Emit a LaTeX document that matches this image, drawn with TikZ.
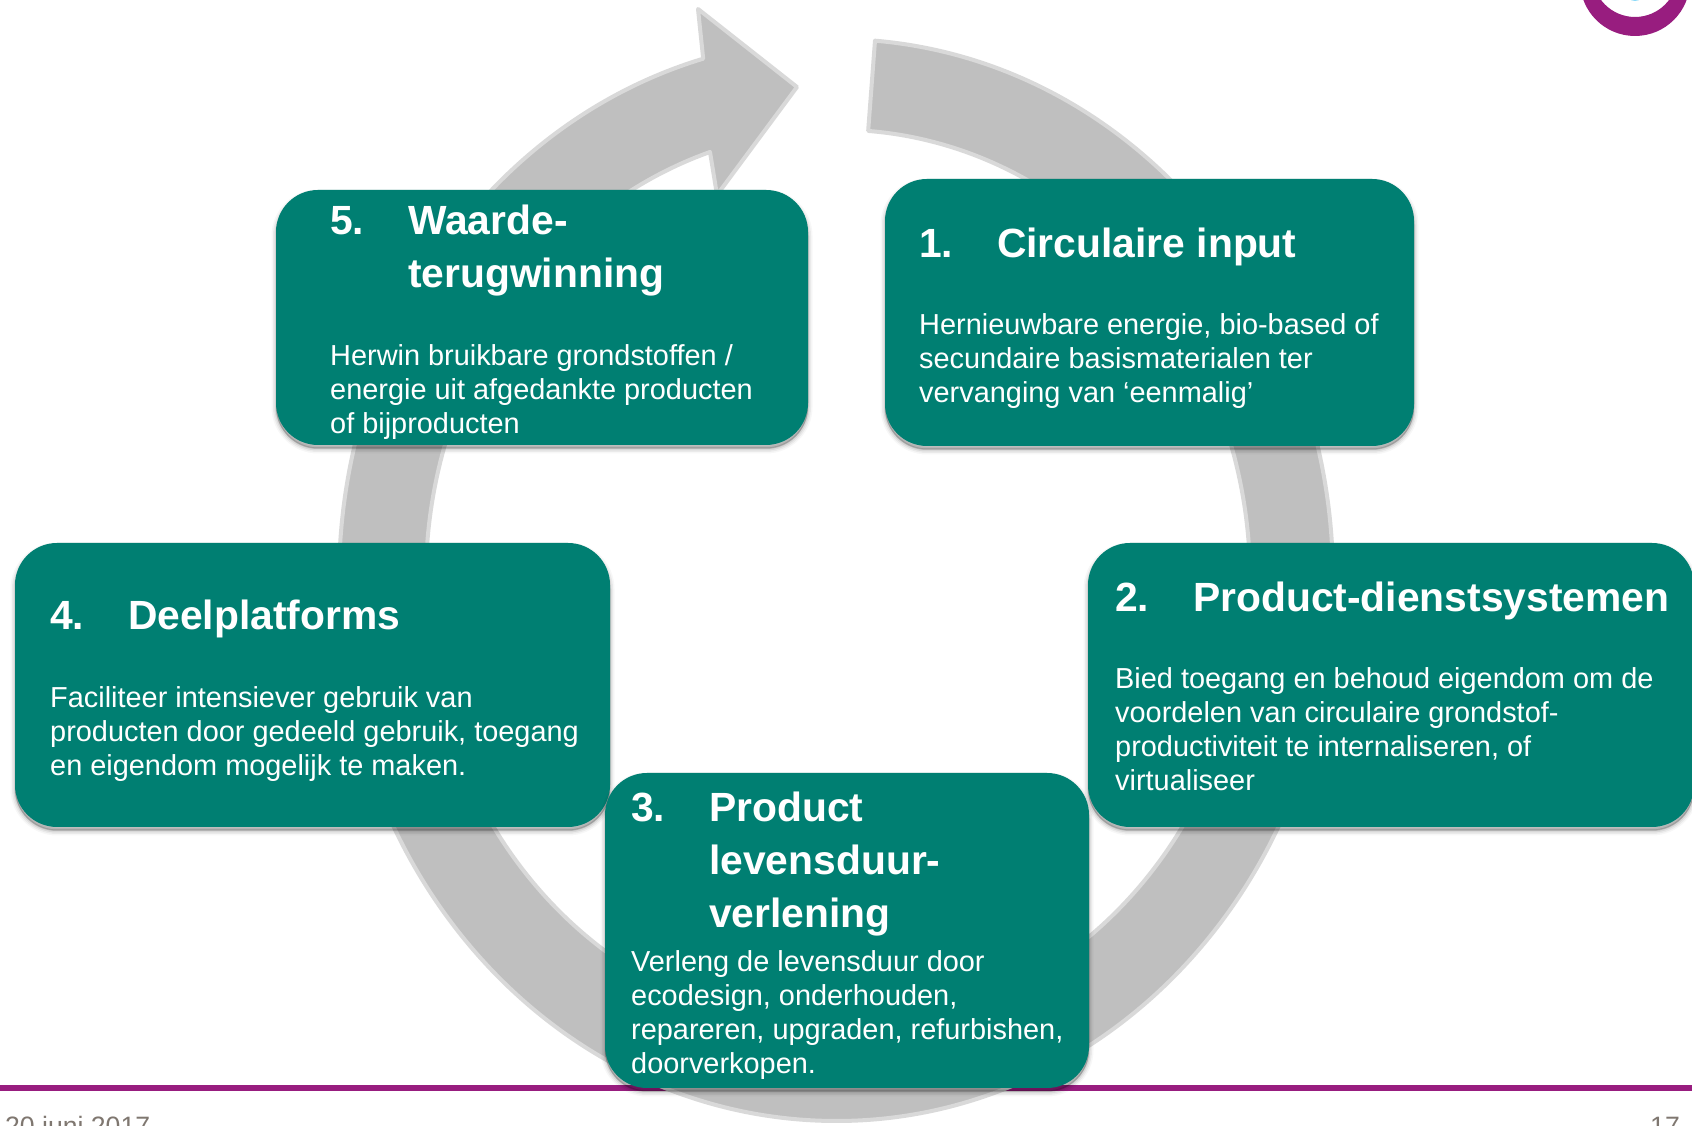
\documentclass[tikz,border=0pt]{standalone}
\usepackage{fontspec}
\setmainfont{Liberation Sans}
\definecolor{teal1}{HTML}{007F72}
\definecolor{ringgray}{HTML}{BFBFBF}
\definecolor{ringedge}{HTML}{D9D9D9}
\definecolor{purple1}{HTML}{981D7F}
\definecolor{foot}{HTML}{7F7770}
\newcommand{\numbox}[1]{\makebox[78pt][l]{#1}}
\tikzset{
  x=1pt,y=1pt,
  softshadow/.style={
    preaction={draw=black,fill=black,line width=9pt,opacity=.03,transform canvas={yshift=-4pt}},
    preaction={draw=black,fill=black,line width=6pt,opacity=.05,transform canvas={yshift=-4pt}},
    preaction={draw=black,fill=black,line width=3pt,opacity=.07,transform canvas={yshift=-4pt}},
    preaction={draw=black,fill=black,line width=1pt,opacity=.09,transform canvas={yshift=-3pt}}},
  tealbox/.style={rectangle,rounded corners=42pt,fill=teal1,inner sep=0pt,softshadow},
  headtext/.style={inner sep=0pt,anchor=base west,align=left,text=white,font=\fontsize{40.8}{53}\selectfont\bfseries},
  bodytext/.style={inner sep=0pt,anchor=base west,align=left,text=white,font=\fontsize{28.9}{34}\selectfont},
  foottext/.style={inner sep=0pt,text=foot,font=\fontsize{26.6}{30}\selectfont},
  ringshape/.style={fill=ringgray,draw=ringedge,line width=4pt,line join=round}
}
\begin{document}
\begin{tikzpicture}
\clip (0,0) rectangle (1692,1126);
\fill[white] (0,0) rectangle (1692,1126);
% logo
\fill[purple1,even odd rule] (1635,1145) circle[radius=55pt] (1635,1151.5) circle[radius=42.5pt];
\fill[cyan!45] (1635,1134) circle[radius=9pt];
% rule
\draw[purple1,line width=5.5pt] (0,38) -- (1692,38);
% ring
\draw[ringshape] (836,546) ++(85.5:497pt and 541pt)
  arc[start angle=85.5,end angle=-254.5,x radius=497pt,y radius=541pt]
  -- (698,1117) -- (797,1039) -- (717,931) -- (710,974)
  arc[start angle=108.1,end angle=445.8,x radius=412pt,y radius=450pt] -- cycle;
% boxes
\node[tealbox,minimum width=532pt,minimum height=255pt] (box5) at (542,808.5) {};
\node[tealbox,minimum width=529pt,minimum height=267pt] (box1) at (1149.5,813.5) {};
\node[tealbox,minimum width=595pt,minimum height=284pt] (box4) at (312.5,441) {};
\node[tealbox,minimum width=606pt,minimum height=284pt] (box2) at (1391,441) {};
\node[tealbox,minimum width=484pt,minimum height=315pt] (box3) at (847,195.5) {};
% texts
\node[headtext] (h1) at (919,868) {\numbox{1.}Circulaire input};
\node[bodytext] (b1) at (919,723) {Hernieuwbare energie, bio-based of\\secundaire basismaterialen ter\\vervanging van ‘eenmalig’};
\node[headtext] (h5) at (330,838) {\numbox{5.}Waarde-\\\numbox{}terugwinning};
\node[bodytext] (b5) at (330,692) {Herwin bruikbare grondstoffen /\\energie uit afgedankte producten\\of bijproducten};
\node[headtext] (h4) at (50,496) {\numbox{4.}Deelplatforms};
\node[bodytext] (b4) at (50,350) {Faciliteer intensiever gebruik van\\producten door gedeeld gebruik, toegang\\en eigendom mogelijk te maken.};
\node[headtext] (h2) at (1115,514) {\numbox{2.}Product-dienstsystemen};
\node[bodytext] (b2) at (1115,335) {Bied toegang en behoud eigendom om de\\voordelen van circulaire grondstof-\\productiviteit te internaliseren, of\\virtualiseer};
\node[headtext] (h3) at (631,198) {\numbox{3.}Product\\\numbox{}levensduur-\\\numbox{}verlening};
\node[bodytext] (b3) at (631,52) {Verleng de levensduur door\\ecodesign, onderhouden,\\repareren, upgraden, refurbishen,\\doorverkopen.};
% footer
\node[foottext,anchor=base west] (date) at (5,-10) {20 juni 2017};
\node[foottext,anchor=base east] (page) at (1680,-10) {17};
\end{tikzpicture}
\end{document}
